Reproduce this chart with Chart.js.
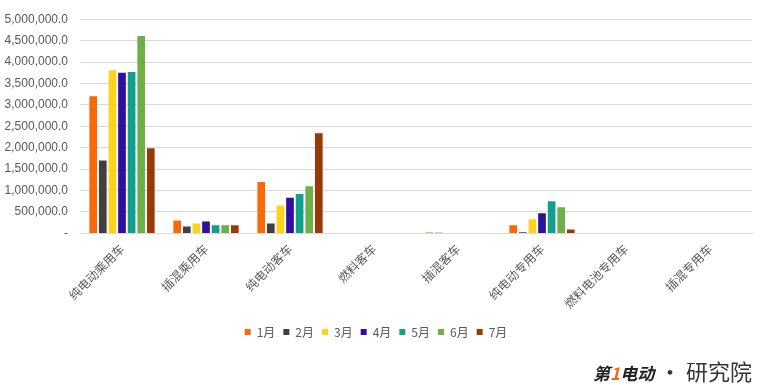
<!DOCTYPE html>
<html>
<head>
<meta charset="utf-8">
<script src="https://cdn.jsdelivr.net/npm/chart.js@4.4.1/dist/chart.umd.min.js"></script>
<style>
html,body{margin:0;padding:0;background:#fff;}
#wrap{position:relative;width:760px;height:385px;overflow:hidden;}
#wm{position:absolute;right:8px;bottom:0px;font-family:"Noto Sans CJK SC";color:#333;white-space:nowrap;line-height:24px;}
#wm .a{font-size:17px;font-style:italic;font-weight:bold;color:#222;}
#wm .o{color:#f26a10;}
#wm .b{font-size:22px;color:#333;}
</style>
</head>
<body>
<div id="wrap">
<canvas id="c" width="760" height="385"></canvas>
<div id="wm"><span class="a">第<span class="o">1</span>电动</span><span class="b"> · 研究院</span></div>
</div>
<script>
const categories = ["纯电动乘用车","插混乘用车","纯电动客车","燃料客车","插混客车","纯电动专用车","燃料电池专用车","插混专用车"];
const seriesNames = ["1月","2月","3月","4月","5月","6月","7月"];
const jan = [3200000, 300000, 1200000, 0, 20000, 190000, 0, 0];
const feb = [1700000, 160000, 230000, 0, 15000, 30000, 0, 0];
const mar = [3810000, 230000, 650000, 0, 0, 330000, 0, 0];
const apr = [3750000, 280000, 830000, 0, 0, 470000, 0, 0];
const may = [3770000, 190000, 920000, 0, 0, 750000, 0, 0];
const jun = [4610000, 190000, 1100000, 0, 12000, 610000, 0, 0];
const jul = [1990000, 190000, 2340000, 0, 0, 90000, 0, 0];
const yTicks = [0, 500000, 1000000, 1500000, 2000000, 2500000, 3000000, 3500000, 4000000, 4500000, 5000000];

const colors = ["#F8690A","#404040","#FFD21E","#300FA0","#12A08A","#6FAE48","#983A08"];
const values = [jan, feb, mar, apr, may, jun, jul];

const datasets = seriesNames.map((n, i) => ({
  label: n,
  data: values[i],
  backgroundColor: colors[i],
  borderWidth: 0,
  categoryPercentage: 0.8,
  barPercentage: 0.8
}));

const fmt = v => v === 0 ? "-" : v.toLocaleString("en-US", {minimumFractionDigits: 1, maximumFractionDigits: 1});

new Chart(document.getElementById("c"), {
  type: "bar",
  data: { labels: categories, datasets },
  options: {
    responsive: false,
    animation: false,
    devicePixelRatio: 1,
    layout: { padding: { top: 15, right: 8, left: 0, bottom: 37 } },
    plugins: {
      tooltip: { enabled: false },
      legend: {
        position: "bottom",
        labels: {
          boxWidth: 6, boxHeight: 6, padding: 8,
          color: "#595959",
          font: { family: "Noto Sans CJK SC", size: 12 }
        }
      }
    },
    scales: {
      x: {
        grid: { display: false },
        border: { color: "#d9d9d9" },
        afterFit: s => { s.height += 7; },
        ticks: {
          minRotation: 45, maxRotation: 45,
          padding: 0,
          color: "#595959",
          font: { family: "Noto Sans CJK SC", size: 12 }
        }
      },
      y: {
        min: 0, max: 5000000,
        afterBuildTicks: s => { s.ticks = yTicks.map(v => ({ value: v })); },
        afterFit: s => { s.width = 80; },
        grid: { color: "#d9d9d9", drawTicks: false },
        border: { display: false },
        ticks: {
          padding: 12,
          color: "#595959",
          font: { family: "Liberation Sans", size: 12 },
          callback: v => fmt(v)
        }
      }
    }
  }
});
</script>
</body>
</html>
